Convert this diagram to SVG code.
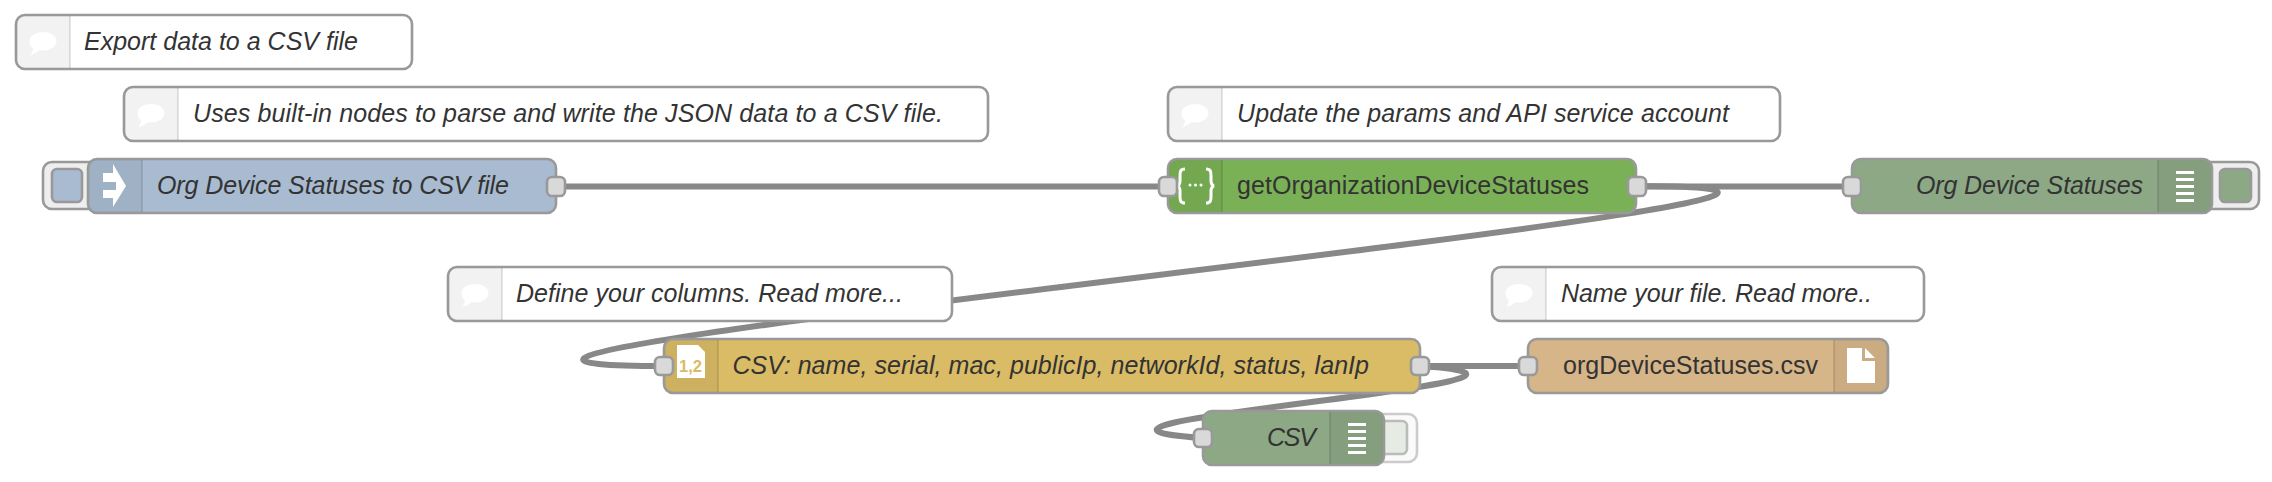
<svg xmlns="http://www.w3.org/2000/svg" xmlns:xlink="http://www.w3.org/1999/xlink" width="2272" height="482" viewBox="0 0 2272 482">
<style>
text{font-family:"Liberation Sans",Arial,Helvetica,sans-serif;font-size:25px;fill:#333}
.it{font-style:italic}
.wire{fill:none;stroke:#888;stroke-width:6}
.box{stroke:#999;stroke-width:2.6}
.cmt{fill:#fff}
.shade{fill:#000;fill-opacity:.05}
.div{stroke:#000;stroke-opacity:.1;stroke-width:2}
.port{fill:#d9d9d9;stroke:#999;stroke-width:2.6}
.btn{fill:#eee;stroke:#999;stroke-width:2.6}
.ic{fill:#fff}
.inj{fill:#a8bbd0}.fn{fill:#7ab156}.csv{fill:#dabb66}.file{fill:#d6b588}.dbg{fill:#8da885}
</style>
<defs>
<path id="bubble" class="ic" d="M27 17c8 0 13.500 4 13.500 9s-5.500 9.500-13.500 9.500c-1 0-2.500 0-3.500-.3c-2 2.300-5.500 4-9.500 4.800c1.500-1.500 2.800-4 3-6.500c-2.500-2-3.500-4.500-3.500-7.500c0-5 5.500-9 13.500-9z"/>
<g id="bars" class="ic"><rect x="0" y="-15.500" width="18" height="3"/><rect x="0" y="-8.500" width="18" height="3"/><rect x="0" y="-1.500" width="18" height="3"/><rect x="0" y="5.500" width="18" height="3"/><rect x="0" y="12.500" width="18" height="3"/></g>
</defs>
<rect width="2272" height="482" fill="#fff"/>
<g id="connectors">
<path class="wire" d="M556 186.500H1168"/>
<path class="wire" d="M1637 186.500H1851"/>
<path class="wire" d="M1637 186 C2132 186 169 366 664 366"/>
<path class="wire" d="M1420 366H1528"/>
<path class="wire" d="M1420 366 C1641.700 381 981.300 423 1203 438"/>
</g>
<g id="comment-export">
<rect class="box cmt" x="16" y="15" width="396" height="54" rx="9"/>
<path class="shade" d="M70 16H25a8 8 0 0 0-8 8V60a8 8 0 0 0 8 8H70z"/>
<path class="div" d="M70 16V68"/>
<use xlink:href="#bubble" href="#bubble" x="16" y="15"/>
<text class="it" x="84" y="50" textLength="274">Export data to a CSV file</text>
</g>
<g id="comment-builtin">
<rect class="box cmt" x="124" y="87" width="864" height="54" rx="9"/>
<path class="shade" d="M178 88H133a8 8 0 0 0-8 8V132a8 8 0 0 0 8 8H178z"/>
<path class="div" d="M178 88V140"/>
<use xlink:href="#bubble" href="#bubble" x="124" y="87"/>
<text class="it" x="193" y="122" textLength="750">Uses built-in nodes to parse and write the JSON data to a CSV file.</text>
</g>
<g id="comment-params">
<rect class="box cmt" x="1168" y="87" width="612" height="54" rx="9"/>
<path class="shade" d="M1222 88H1177a8 8 0 0 0-8 8V132a8 8 0 0 0 8 8H1222z"/>
<path class="div" d="M1222 88V140"/>
<use xlink:href="#bubble" href="#bubble" x="1168" y="87"/>
<text class="it" x="1237" y="122" textLength="492">Update the params and API service account</text>
</g>
<g id="comment-columns">
<rect class="box cmt" x="448" y="267" width="504" height="54" rx="9"/>
<path class="shade" d="M502 268H457a8 8 0 0 0-8 8V312a8 8 0 0 0 8 8H502z"/>
<path class="div" d="M502 268V320"/>
<use xlink:href="#bubble" href="#bubble" x="448" y="267"/>
<text class="it" x="516" y="302" textLength="387">Define your columns. Read more...</text>
</g>
<g id="comment-file">
<rect class="box cmt" x="1492" y="267" width="432" height="54" rx="9"/>
<path class="shade" d="M1546 268H1501a8 8 0 0 0-8 8V312a8 8 0 0 0 8 8H1546z"/>
<path class="div" d="M1546 268V320"/>
<use xlink:href="#bubble" href="#bubble" x="1492" y="267"/>
<text class="it" x="1561" y="302" textLength="311">Name your file. Read more..</text>
</g>
<g id="node-inject">
<rect class="btn" x="43" y="162" width="60" height="47" rx="9"/>
<rect class="box inj" x="52" y="169" width="30" height="33" rx="5"/>
<rect class="box inj" x="88" y="159" width="468" height="54" rx="9"/>
<path class="shade" d="M142 160H97a8 8 0 0 0-8 8V204a8 8 0 0 0 8 8H142z"/>
<path class="div" d="M142 160V212"/>
<path class="ic" d="M113 164L126 186L113 207V198H103V190H116V182H103V173H113z"/>
<text class="it" x="157" y="194" textLength="352">Org Device Statuses to CSV file</text>
<rect class="port" x="547" y="177" width="18" height="19" rx="5"/>
</g>
<g id="node-function">
<rect class="box fn" x="1168" y="159" width="468" height="54" rx="9"/>
<path class="shade" d="M1222 160H1177a8 8 0 0 0-8 8V204a8 8 0 0 0 8 8H1222z"/>
<path class="div" d="M1222 160V212"/>
<path d="M1185 169c-5 0-5 3-5 7v5c0 3-1 4.500-3 5c2 .5 3 2 3 5v5c0 4 0 7 5 7M1206 169c5 0 5 3 5 7v5c0 3 1 4.500 3 5c-2 .5-3 2-3 5v5c0 4 0 7-5 7" fill="none" stroke="#fff" stroke-width="3"/>
<circle class="ic" cx="1190" cy="185" r="1.500"/><circle class="ic" cx="1195.500" cy="185" r="1.500"/><circle class="ic" cx="1201" cy="185" r="1.500"/>
<text x="1237" y="194" textLength="352">getOrganizationDeviceStatuses</text>
<rect class="port" x="1159" y="177" width="18" height="19" rx="5"/>
<rect class="port" x="1628" y="177" width="18" height="19" rx="5"/>
</g>
<g id="node-debug-statuses">
<rect class="btn" x="2199" y="162" width="60" height="47" rx="9"/>
<rect class="box dbg" x="2220" y="169" width="31" height="33" rx="5"/>
<rect class="box dbg" x="1852" y="159" width="360" height="54" rx="9"/>
<path class="shade" d="M2158 160H2203a8 8 0 0 1 8 8V204a8 8 0 0 1-8 8H2158z"/>
<path class="div" d="M2158 160V212"/>
<use xlink:href="#bars" href="#bars" x="2176" y="186.500"/>
<text class="it" x="1916" y="194" textLength="227">Org Device Statuses</text>
<rect class="port" x="1843" y="177" width="18" height="19" rx="5"/>
</g>
<g id="node-csv">
<rect class="box csv" x="664" y="339" width="756" height="54" rx="9"/>
<path class="shade" d="M718 340H673a8 8 0 0 0-8 8V384a8 8 0 0 0 8 8H718z"/>
<path class="div" d="M718 340V392"/>
<path class="ic" d="M677 345H698L705 352V378H677z"/>
<text x="679" y="372" style="font-size:16.500px;font-weight:bold;fill:#dabb66">1,2</text>
<text class="it" x="732.500" y="374" textLength="636.500">CSV: name, serial, mac, publicIp, networkId, status, lanIp</text>
<rect class="port" x="655" y="357" width="18" height="18" rx="5"/>
<rect class="port" x="1411" y="357" width="18" height="18" rx="5"/>
</g>
<g id="node-file">
<rect class="box file" x="1528" y="339" width="360" height="54" rx="9"/>
<path class="shade" d="M1834 340H1879a8 8 0 0 1 8 8V384a8 8 0 0 1-8 8H1834z"/>
<path class="div" d="M1834 340V392"/>
<path class="ic" d="M1847 348H1862V361H1875V383H1847zM1865 348L1875 358H1865z"/>
<text x="1563" y="374" textLength="255">orgDeviceStatuses.csv</text>
<rect class="port" x="1519" y="357" width="18" height="18" rx="5"/>
</g>
<g id="node-debug-csv">
<rect x="1370" y="414" width="47" height="48" rx="9" fill="#fafafa" stroke="#ccc" stroke-width="2.600"/>
<rect x="1376" y="421" width="31" height="33" rx="5" fill="#e6ebe4" stroke="#bbb" stroke-width="2.600"/>
<rect class="box dbg" x="1203" y="411" width="181" height="54" rx="9"/>
<path class="shade" d="M1330 412H1375a8 8 0 0 1 8 8V456a8 8 0 0 1-8 8H1330z"/>
<path class="div" d="M1330 412V464"/>
<use xlink:href="#bars" href="#bars" x="1348" y="438.500"/>
<text class="it" x="1267" y="446" textLength="49">CSV</text>
<rect class="port" x="1194" y="429" width="18" height="18" rx="5"/>
</g>
</svg>
